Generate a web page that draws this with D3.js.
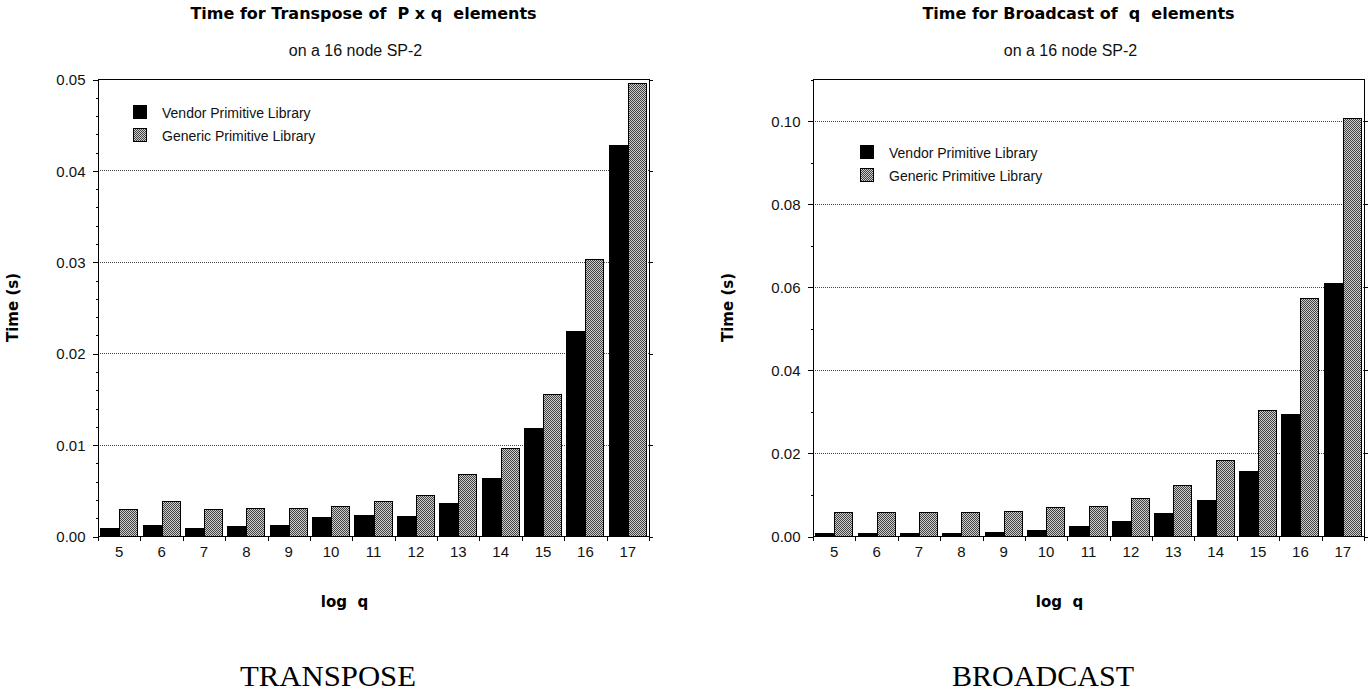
<!DOCTYPE html>
<html><head><meta charset="utf-8">
<script src="https://cdn.jsdelivr.net/npm/d3@7"></script>
<style>body{margin:0;background:#fff}svg{display:block}</style>
</head><body>
<svg id="c" width="1372" height="694"></svg>
<script>
const categories = ["5","6","7","8","9","10","11","12","13","14","15","16","17"];
const seriesNames = ["Vendor Primitive Library","Generic Primitive Library"];
const transposeVendor  = [0.00091,0.00117,0.00091,0.00106,0.00117,0.00208,0.00233,0.00219,0.00365,0.00635,0.01178,0.02243,0.0428];
const transposeGeneric = [0.0029,0.00386,0.0029,0.00306,0.00306,0.00332,0.00386,0.00445,0.00675,0.00963,0.01554,0.0303,0.0496];
const broadcastVendor  = [0.00065,0.00065,0.00065,0.00065,0.00104,0.00137,0.00233,0.00353,0.00546,0.0086,0.01566,0.02948,0.0608];
const broadcastGeneric = [0.0057,0.0057,0.0057,0.0057,0.006,0.007,0.0073,0.00923,0.01237,0.01839,0.03036,0.0572,0.1007];
const transposeTicks = [0,0.01,0.02,0.03,0.04,0.05];
const transposeMinor = d3.range(0,0.0501,0.002);
const broadcastTicks = [0,0.02,0.04,0.06,0.08,0.10];
const broadcastMinor = d3.range(0,0.1101,0.01);

const svg = d3.select("#c");
const defs = svg.append("defs");
const pat = defs.append("pattern").attr("id","dots").attr("patternUnits","userSpaceOnUse")
  .attr("width",2).attr("height",2);
pat.append("rect").attr("width",2).attr("height",2).attr("fill","#cfcfcf");
pat.append("rect").attr("width",1).attr("height",1).attr("fill","#404040");
pat.append("rect").attr("x",1).attr("y",1).attr("width",1).attr("height",1).attr("fill","#404040");

function panel(o){
  const g = svg.append("g");
  const x = d3.scaleBand().domain(categories).range([o.x0,o.x1]);
  const bw = x.bandwidth();
  const xs = d3.scaleBand().domain(seriesNames).range([bw*0.05,bw*0.95]);
  const y = d3.scaleLinear().domain([0,o.yMax]).range([o.y1,o.y0]);

  // gridlines
  g.append("g").selectAll("line").data(o.ticks.filter(t=>t>0)).join("line")
    .attr("x1",o.x0).attr("x2",o.x1)
    .attr("y1",d=>Math.round(y(d))+0.5).attr("y2",d=>Math.round(y(d))+0.5)
    .attr("stroke","#444").attr("stroke-dasharray","1,1").attr("shape-rendering","crispEdges");

  // bars
  const rows = categories.map((c,i)=>({c, v:[o.vendor[i],o.generic[i]]}));
  const grp = g.append("g").selectAll("g").data(rows).join("g");
  grp.append("rect")
    .attr("x",d=>Math.round(x(d.c)+xs(seriesNames[0])))
    .attr("width",d=>Math.round(x(d.c)+xs(seriesNames[1]))-Math.round(x(d.c)+xs(seriesNames[0])))
    .attr("y",d=>Math.round(y(d.v[0])))
    .attr("height",d=>o.y1-Math.round(y(d.v[0])))
    .attr("fill","#000").attr("shape-rendering","crispEdges");
  grp.append("rect")
    .attr("x",d=>Math.round(x(d.c)+xs(seriesNames[1]))+0.5)
    .attr("width",d=>Math.round(x(d.c)+xs(seriesNames[1])+xs.bandwidth())-Math.round(x(d.c)+xs(seriesNames[1]))-1)
    .attr("y",d=>Math.round(y(d.v[1]))+0.5)
    .attr("height",d=>o.y1-Math.round(y(d.v[1]))-0.5)
    .attr("fill","url(#dots)").attr("stroke","#000").attr("stroke-width",1).attr("shape-rendering","crispEdges");

  // frame
  g.append("rect").attr("x",o.x0+0.5).attr("y",o.y0+0.5)
    .attr("width",o.x1-o.x0).attr("height",o.y1-o.y0)
    .attr("fill","none").attr("stroke","#000").attr("shape-rendering","crispEdges");

  // y axis major
  const ya = g.append("g").attr("transform",`translate(${o.x0+0.5},0.5)`)
    .call(d3.axisLeft(y).tickValues(o.ticks).tickSize(6).tickPadding(7).tickFormat(d3.format(".2f")));
  ya.select(".domain").remove();
  ya.selectAll("text").attr("font-family","Liberation Sans, Arial, sans-serif").attr("font-size",15).attr("fill","#111").attr("dy","0.34em");
  // y axis minor
  const ym = g.append("g").attr("transform",`translate(${o.x0+0.5},0.5)`)
    .call(d3.axisLeft(y).tickValues(o.minor).tickSize(3).tickFormat(""));
  ym.select(".domain").remove();
  // right frame ticks
  const yr = g.append("g").attr("transform",`translate(${o.x1+0.5},0.5)`)
    .call(d3.axisRight(y).tickValues(o.ticks).tickSize(3).tickFormat(""));
  yr.select(".domain").remove();
  g.selectAll(".tick line").attr("shape-rendering","crispEdges");

  // x axis labels
  const xa = g.append("g").attr("transform",`translate(0,${o.y1})`)
    .call(d3.axisBottom(x).tickSize(0).tickPadding(10));
  xa.select(".domain").remove();
  xa.selectAll("text").attr("font-family","Liberation Sans, Arial, sans-serif").attr("font-size",15).attr("fill","#111");
  // x boundary ticks
  const bounds = categories.map(c=>x(c)).concat([o.x1]);
  g.append("g").selectAll("line").data(bounds).join("line")
    .attr("x1",d=>Math.round(d)+0.5).attr("x2",d=>Math.round(d)+0.5)
    .attr("y1",o.y1).attr("y2",o.y1+5).attr("stroke","#000").attr("shape-rendering","crispEdges");

  // legend
  const lg = g.append("g").attr("transform",`translate(${o.lx},${o.ly})`);
  seriesNames.forEach((s,i)=>{
    lg.append("rect").attr("x",0.5).attr("y",i*23+0.5).attr("width",13).attr("height",13)
      .attr("fill",i==0?"#000":"url(#dots)").attr("stroke","#000").attr("shape-rendering","crispEdges");
    lg.append("text").attr("x",29).attr("y",i*23+13).text(s)
      .attr("font-family","Liberation Sans, Arial, sans-serif").attr("font-size",14).attr("fill","#111");
  });

  // titles
  const cx = o.x0 + (o.x1-o.x0)/2 - 10;
  g.append("text").attr("x",cx).attr("y",19).attr("text-anchor","middle")
    .attr("font-family","DejaVu Sans, sans-serif").attr("font-weight","bold").attr("font-size",16)
    .style("white-space","pre").text(o.title);
  g.append("text").attr("x",cx-8).attr("y",56).attr("text-anchor","middle")
    .attr("font-family","Liberation Sans, Arial, sans-serif").attr("font-size",16).attr("fill","#111")
    .text(o.subtitle);
  // axis titles
  g.append("text").attr("transform",`translate(${o.x0-80},${(o.y0+o.y1)/2}) rotate(-90)`)
    .attr("text-anchor","middle").attr("font-family","DejaVu Sans, sans-serif").attr("font-weight","bold")
    .attr("font-size",15).text("Time (s)");
  g.append("text").attr("x",cx-19).attr("y",607).attr("text-anchor","middle")
    .attr("font-family","DejaVu Sans, sans-serif").attr("font-weight","bold").attr("font-size",15)
    .style("white-space","pre").text("log  q");
  // caption
  g.append("text").attr("x",o.capx).attr("y",686).attr("text-anchor","middle")
    .attr("font-family","Liberation Serif, serif").attr("font-size",29)
    .attr("textLength",o.capw).attr("lengthAdjust","spacingAndGlyphs").text(o.caption);
}

panel({x0:98,x1:649,y0:79,y1:536,yMax:0.05,ticks:transposeTicks,minor:transposeMinor,
  vendor:transposeVendor,generic:transposeGeneric,lx:133,ly:105,
  title:"Time for Transpose of  P x q  elements",subtitle:"on a 16 node SP-2",
  caption:"TRANSPOSE",capx:328,capw:176});
panel({x0:813,x1:1364,y0:79,y1:536,yMax:0.11,ticks:broadcastTicks,minor:broadcastMinor,
  vendor:broadcastVendor,generic:broadcastGeneric,lx:860,ly:145,
  title:"Time for Broadcast of  q  elements",subtitle:"on a 16 node SP-2",
  caption:"BROADCAST",capx:1043,capw:182});
</script>
</body></html>
